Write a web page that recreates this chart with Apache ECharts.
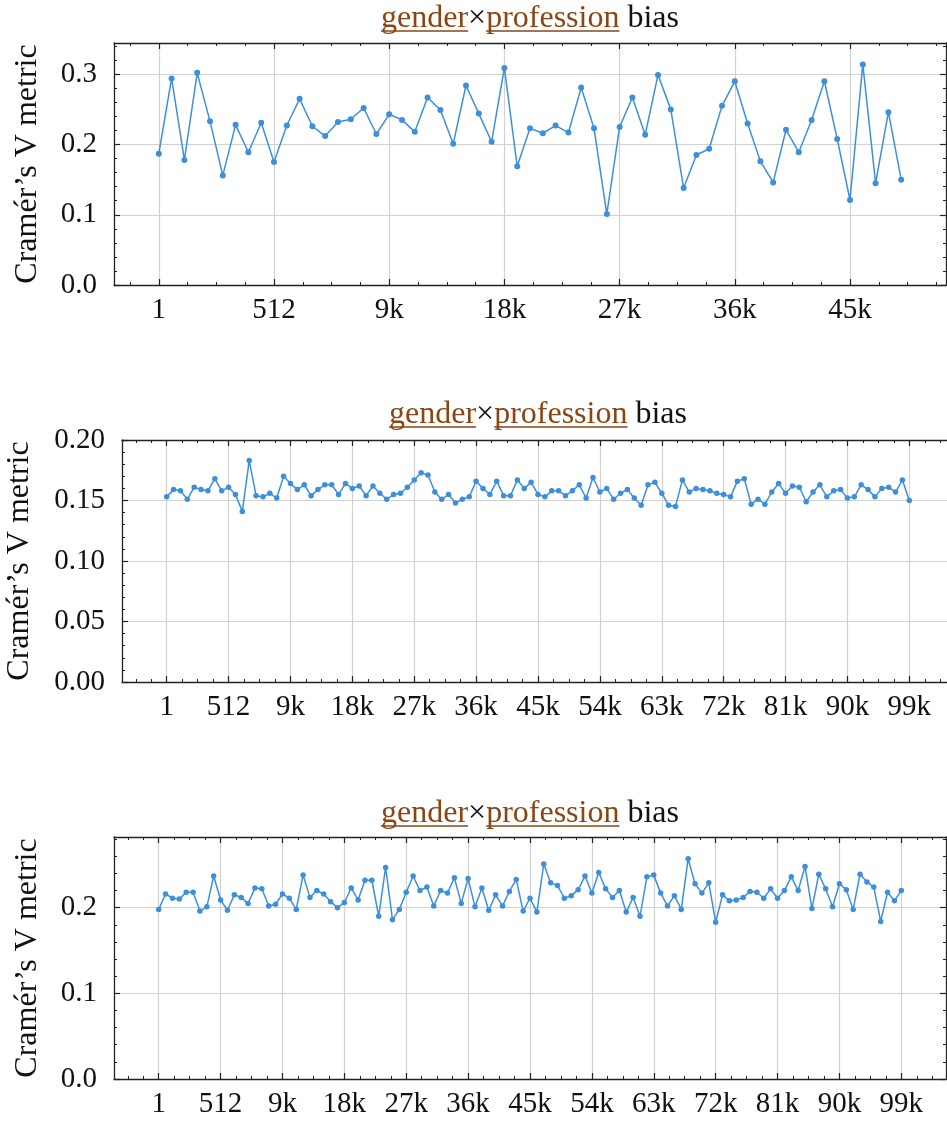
<!DOCTYPE html>
<html><head><meta charset="utf-8">
<script src="https://cdn.jsdelivr.net/npm/echarts@6/dist/echarts.min.js"></script>
<style>html,body{margin:0;padding:0;background:#fff}#c{width:947px;height:1124px}</style>
</head><body><div id="c"></div><script>
// ---------------- data ----------------
const panel1Values = [0.187,0.294,0.178,0.302,0.233,0.156,0.228,0.189,0.231,0.175,
  0.227,0.265,0.226,0.212,0.232,0.236,0.252,0.215,0.243,0.235,
  0.218,0.267,0.249,0.201,0.284,0.244,0.204,0.309,0.169,0.223,
  0.216,0.227,0.217,0.281,0.223,0.101,0.225,0.267,0.214,0.299,
  0.250,0.138,0.185,0.194,0.255,0.290,0.230,0.176,0.146,0.221,
  0.189,0.235,0.290,0.208,0.121,0.314,0.145,0.246,0.150];
const panel2Values = [0.153,0.159,0.158,0.151,0.161,0.159,0.158,0.168,0.158,0.161,
  0.155,0.141,0.183,0.154,0.153,0.156,0.152,0.170,0.164,0.159,
  0.163,0.154,0.159,0.163,0.163,0.155,0.164,0.160,0.162,0.154,
  0.162,0.156,0.151,0.155,0.156,0.161,0.167,0.173,0.171,0.157,
  0.151,0.155,0.148,0.151,0.153,0.166,0.160,0.155,0.166,0.154,
  0.154,0.167,0.160,0.165,0.155,0.153,0.158,0.158,0.154,0.158,
  0.163,0.152,0.169,0.157,0.160,0.151,0.156,0.159,0.152,0.146,
  0.163,0.165,0.156,0.146,0.145,0.167,0.157,0.160,0.159,0.158,
  0.156,0.155,0.153,0.166,0.168,0.147,0.151,0.147,0.157,0.164,
  0.156,0.162,0.161,0.149,0.157,0.163,0.153,0.158,0.159,0.152,
  0.153,0.163,0.159,0.153,0.160,0.161,0.157,0.167,0.150];
const panel3Values = [0.198,0.216,0.211,0.210,0.218,0.218,0.196,0.201,0.237,0.209,
  0.197,0.215,0.212,0.205,0.223,0.222,0.202,0.204,0.216,0.211,
  0.198,0.238,0.212,0.220,0.216,0.207,0.200,0.206,0.223,0.209,
  0.232,0.232,0.190,0.247,0.186,0.198,0.218,0.237,0.220,0.224,
  0.202,0.220,0.217,0.235,0.205,0.234,0.201,0.223,0.197,0.215,
  0.202,0.219,0.233,0.196,0.211,0.195,0.251,0.229,0.226,0.211,
  0.214,0.221,0.237,0.217,0.241,0.222,0.212,0.220,0.195,0.212,
  0.190,0.236,0.238,0.217,0.202,0.214,0.198,0.257,0.228,0.217,
  0.229,0.183,0.215,0.208,0.209,0.212,0.219,0.218,0.211,0.222,
  0.211,0.220,0.236,0.220,0.248,0.199,0.239,0.222,0.201,0.228,
  0.221,0.198,0.239,0.230,0.224,0.184,0.218,0.208,0.220];

const xLabelsShort = ['1','512','9k','18k','27k','36k','45k'];
const xLabelsLong = ['1','512','9k','18k','27k','36k','45k','54k','63k','72k','81k','90k','99k'];
const yTicks1 = [0, 0.1, 0.2, 0.3];
const yLabels1 = ['0.0','0.1','0.2','0.3'];
const yTicks2 = [0, 0.05, 0.10, 0.15, 0.20];
const yLabels2 = ['0.00','0.05','0.10','0.15','0.20'];
const yTicks3 = [0, 0.1, 0.2];
const yLabels3 = ['0.0','0.1','0.2'];
const titleParts = [
  {text: 'gender', hi: true},
  {text: '×', hi: false},
  {text: 'profession', hi: true},
  {text: ' bias', hi: false}
];
const yAxisName = 'Cramér’s V metric';

// ---------------- layout / style ----------------
const FONT = '"Liberation Serif", "DejaVu Serif", serif';
const LINE_COLOR = '#3d8fdc';
const BROWN = '#8B4513';
const AXIS_COLOR = '#222';
const GRID_COLOR = '#d2d2d2';
const X_STEP = 9, X_MINOR = 2.25;

const panels = [
  {values: panel1Values, xLabels: xLabelsShort, yTicks: yTicks1, yLabels: yLabels1,
   left: 114, top: 43, width: 832, height: 242, xMin: -3.5, xMax: 61.5, yMax: 0.3445,
   yMinor: 0.02, nameGap: 70, sym: 6, titleBase: 27},
  {values: panel2Values, xLabels: xLabelsLong, yTicks: yTicks2, yLabels: yLabels2,
   left: 122, top: 440, width: 832, height: 242, xMin: -6.5, xMax: 114.5, yMax: 0.2,
   yMinor: 0.01, nameGap: 86, sym: 5.5, titleBase: 423},
  {values: panel3Values, xLabels: xLabelsLong, yTicks: yTicks3, yLabels: yLabels3,
   left: 114, top: 837, width: 832, height: 242, xMin: -6.5, xMax: 114.5, yMax: 0.2825,
   yMinor: 0.02, nameGap: 70, sym: 5.5, titleBase: 822}
];

function range(a, b, step) {
  const out = [];
  const start = Math.ceil(a / step - 1e-9) * step;
  for (let v = start; v <= b + 1e-9; v += step) out.push(Math.round(v * 1e6) / 1e6);
  return out;
}

const grids = [], xAxes = [], yAxes = [], series = [], graphics = [];
const mctx = document.createElement('canvas').getContext('2d');
const TITLE_FONT = '32px ' + FONT;
function textWidth(s) { mctx.font = TITLE_FONT; return mctx.measureText(s).width; }

panels.forEach((p, gi) => {
  grids.push({left: p.left, top: p.top, width: p.width, height: p.height,
    containLabel: false, outerBoundsMode: 'none'});
  const xMajors = p.xLabels.map((_, i) => i * X_STEP);
  const xMinors = range(p.xMin, p.xMax, X_MINOR);
  const yMinors = range(0, p.yMax, p.yMinor);
  const hidden = {axisLabel: {show: false}, splitLine: {show: false}};
  const xBase = {type: 'value', gridIndex: gi, min: p.xMin, max: p.xMax};
  const yBase = {type: 'value', gridIndex: gi, min: 0, max: p.yMax};
  const spine = {show: true, onZero: false, lineStyle: {color: AXIS_COLOR, width: 1.3}};
  const noLine = {show: false, onZero: false};
  const majTick = (vals) => ({show: true, inside: true, length: 6, customValues: vals,
    lineStyle: {color: AXIS_COLOR, width: 1.2}});
  const minTick = (vals) => ({show: true, inside: true, length: 3, customValues: vals,
    lineStyle: {color: AXIS_COLOR, width: 1}});
  const xi = xAxes.length, yi = yAxes.length;
  // bottom main
  xAxes.push(Object.assign({}, xBase, {position: 'bottom', axisLine: spine,
    axisTick: majTick(xMajors),
    axisLabel: {show: true, customValues: xMajors, margin: 11, color: '#111',
      fontFamily: FONT, fontSize: 29,
      formatter: (v) => p.xLabels[Math.round(v / X_STEP)]},
    splitLine: {show: true, lineStyle: {color: GRID_COLOR, width: 1.2}}}));
  xAxes.push(Object.assign({}, xBase, hidden, {position: 'bottom', axisLine: noLine,
    axisTick: minTick(xMinors)}));
  xAxes.push(Object.assign({}, xBase, hidden, {position: 'top', axisLine: spine,
    axisTick: majTick(xMajors)}));
  xAxes.push(Object.assign({}, xBase, hidden, {position: 'top', axisLine: noLine,
    axisTick: minTick(xMinors)}));
  // left main
  yAxes.push(Object.assign({}, yBase, {position: 'left', axisLine: spine,
    axisTick: majTick(p.yTicks),
    axisLabel: {show: true, customValues: p.yTicks, margin: 17, color: '#111',
      fontFamily: FONT, fontSize: 29,
      formatter: (v) => p.yLabels[p.yTicks.findIndex(t => Math.abs(t - v) < 1e-9)]},
    splitLine: {show: true, lineStyle: {color: GRID_COLOR, width: 1.2}},
    name: yAxisName, nameLocation: 'middle', nameRotate: 90, nameGap: p.nameGap,
    nameTextStyle: {fontFamily: FONT, fontSize: 32, color: '#111'}}));
  yAxes.push(Object.assign({}, yBase, hidden, {position: 'left', axisLine: noLine,
    axisTick: minTick(yMinors)}));
  yAxes.push(Object.assign({}, yBase, hidden, {position: 'right', axisLine: spine,
    axisTick: majTick(p.yTicks)}));
  yAxes.push(Object.assign({}, yBase, hidden, {position: 'right', axisLine: noLine,
    axisTick: minTick(yMinors)}));

  series.push({type: 'line', xAxisIndex: xi, yAxisIndex: yi,
    data: p.values.map((v, i) => [i, v]),
    symbol: 'circle', symbolSize: p.sym, showSymbol: true,
    lineStyle: {color: LINE_COLOR, width: 1.5},
    itemStyle: {color: LINE_COLOR},
    emphasis: {disabled: true}, animation: false, z: 5});

  // title
  const widths = titleParts.map(t => textWidth(t.text));
  const total = widths.reduce((a, b) => a + b, 0);
  let cur = p.left + p.width / 2 - total / 2;
  titleParts.forEach((t, k) => {
    graphics.push({type: 'text', x: cur, y: p.titleBase - 8,
      style: {text: t.text, font: TITLE_FONT, fill: t.hi ? BROWN : '#111',
        align: 'left', verticalAlign: 'middle'}});
    if (t.hi) {
      graphics.push({type: 'line', shape: {x1: cur, y1: p.titleBase + 4,
        x2: cur + widths[k], y2: p.titleBase + 4},
        style: {stroke: BROWN, lineWidth: 1.3}});
    }
    cur += widths[k];
  });
});

const chart = echarts.init(document.getElementById('c'), null, {renderer: 'canvas'});
chart.setOption({
  backgroundColor: '#fff',
  animation: false,
  grid: grids, xAxis: xAxes, yAxis: yAxes, series: series,
  graphic: graphics
});
</script></body></html>
